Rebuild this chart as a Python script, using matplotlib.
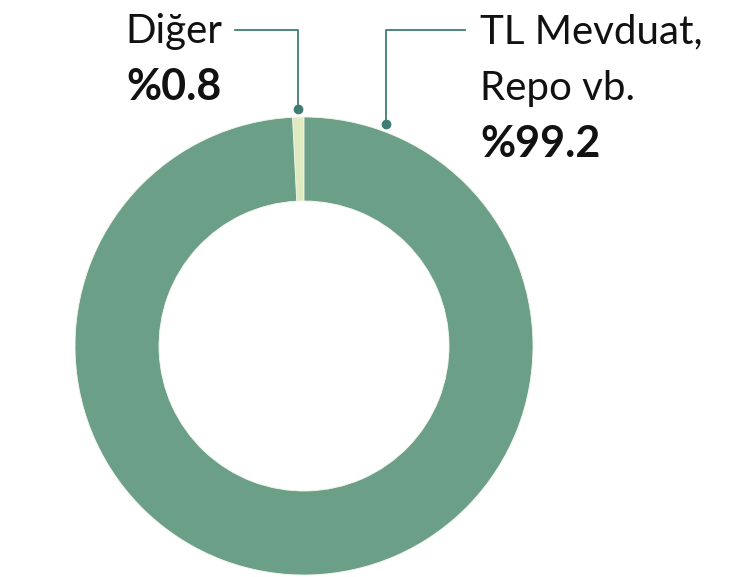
import numpy as np
import matplotlib
matplotlib.use("Agg")
import matplotlib.pyplot as plt

# data
labels = ["Diğer", "TL Mevduat,\nRepo vb."]
shares = [0.8, 99.2]
share_txt = ["%0.8", "%99.2"]
colors = ["#dfeac1", "#6b9f88"]

W, H = 738, 577
line_col = "#3f7c74"
font = "Lato"

fig = plt.figure(figsize=(W / 100, H / 100), dpi=100)
ax = fig.add_axes([0, 0, 1, 1])

def py(y):
    # pixel row -> data y
    return H - y

cx, cy, r_out, r_in = 304, 346, 229, 145
ax.pie(shares, colors=colors, startangle=90, counterclock=True,
       radius=r_out, center=(cx, py(cy)),
       wedgeprops=dict(width=r_out - r_in, linewidth=0.6, edgecolor="#f4f7ea"),
       frame=True)
ax.set_xlim(0, W)
ax.set_ylim(0, H)
ax.set_aspect("equal")
ax.axis("off")

# leader lines
ax.plot([235, 298, 298], [py(29.5), py(29.5), py(109)], color=line_col, lw=1.3)
ax.plot([298], [py(109)], "o", color=line_col, ms=6)
ax.plot([465, 386, 386], [py(29.5), py(29.5), py(124)], color=line_col, lw=1.3)
ax.plot([386], [py(124)], "o", color=line_col, ms=6)

fs = 29
fs_b = 31
ax.text(222, py(43), labels[0], ha="right", va="baseline", fontsize=fs,
        family=font, color="#111111")
ax.text(222, py(100), share_txt[0], ha="right", va="baseline", fontsize=fs_b,
        family=font, weight="bold", color="#111111")
ax.text(480, py(43), "TL Mevduat,", ha="left", va="baseline", fontsize=fs,
        family=font, color="#111111")
ax.text(480, py(100), "Repo vb.", ha="left", va="baseline", fontsize=fs,
        family=font, color="#111111")
ax.text(480, py(157), share_txt[1], ha="left", va="baseline", fontsize=fs_b,
        family=font, weight="bold", color="#111111")

fig.savefig("out.png", dpi=100)
